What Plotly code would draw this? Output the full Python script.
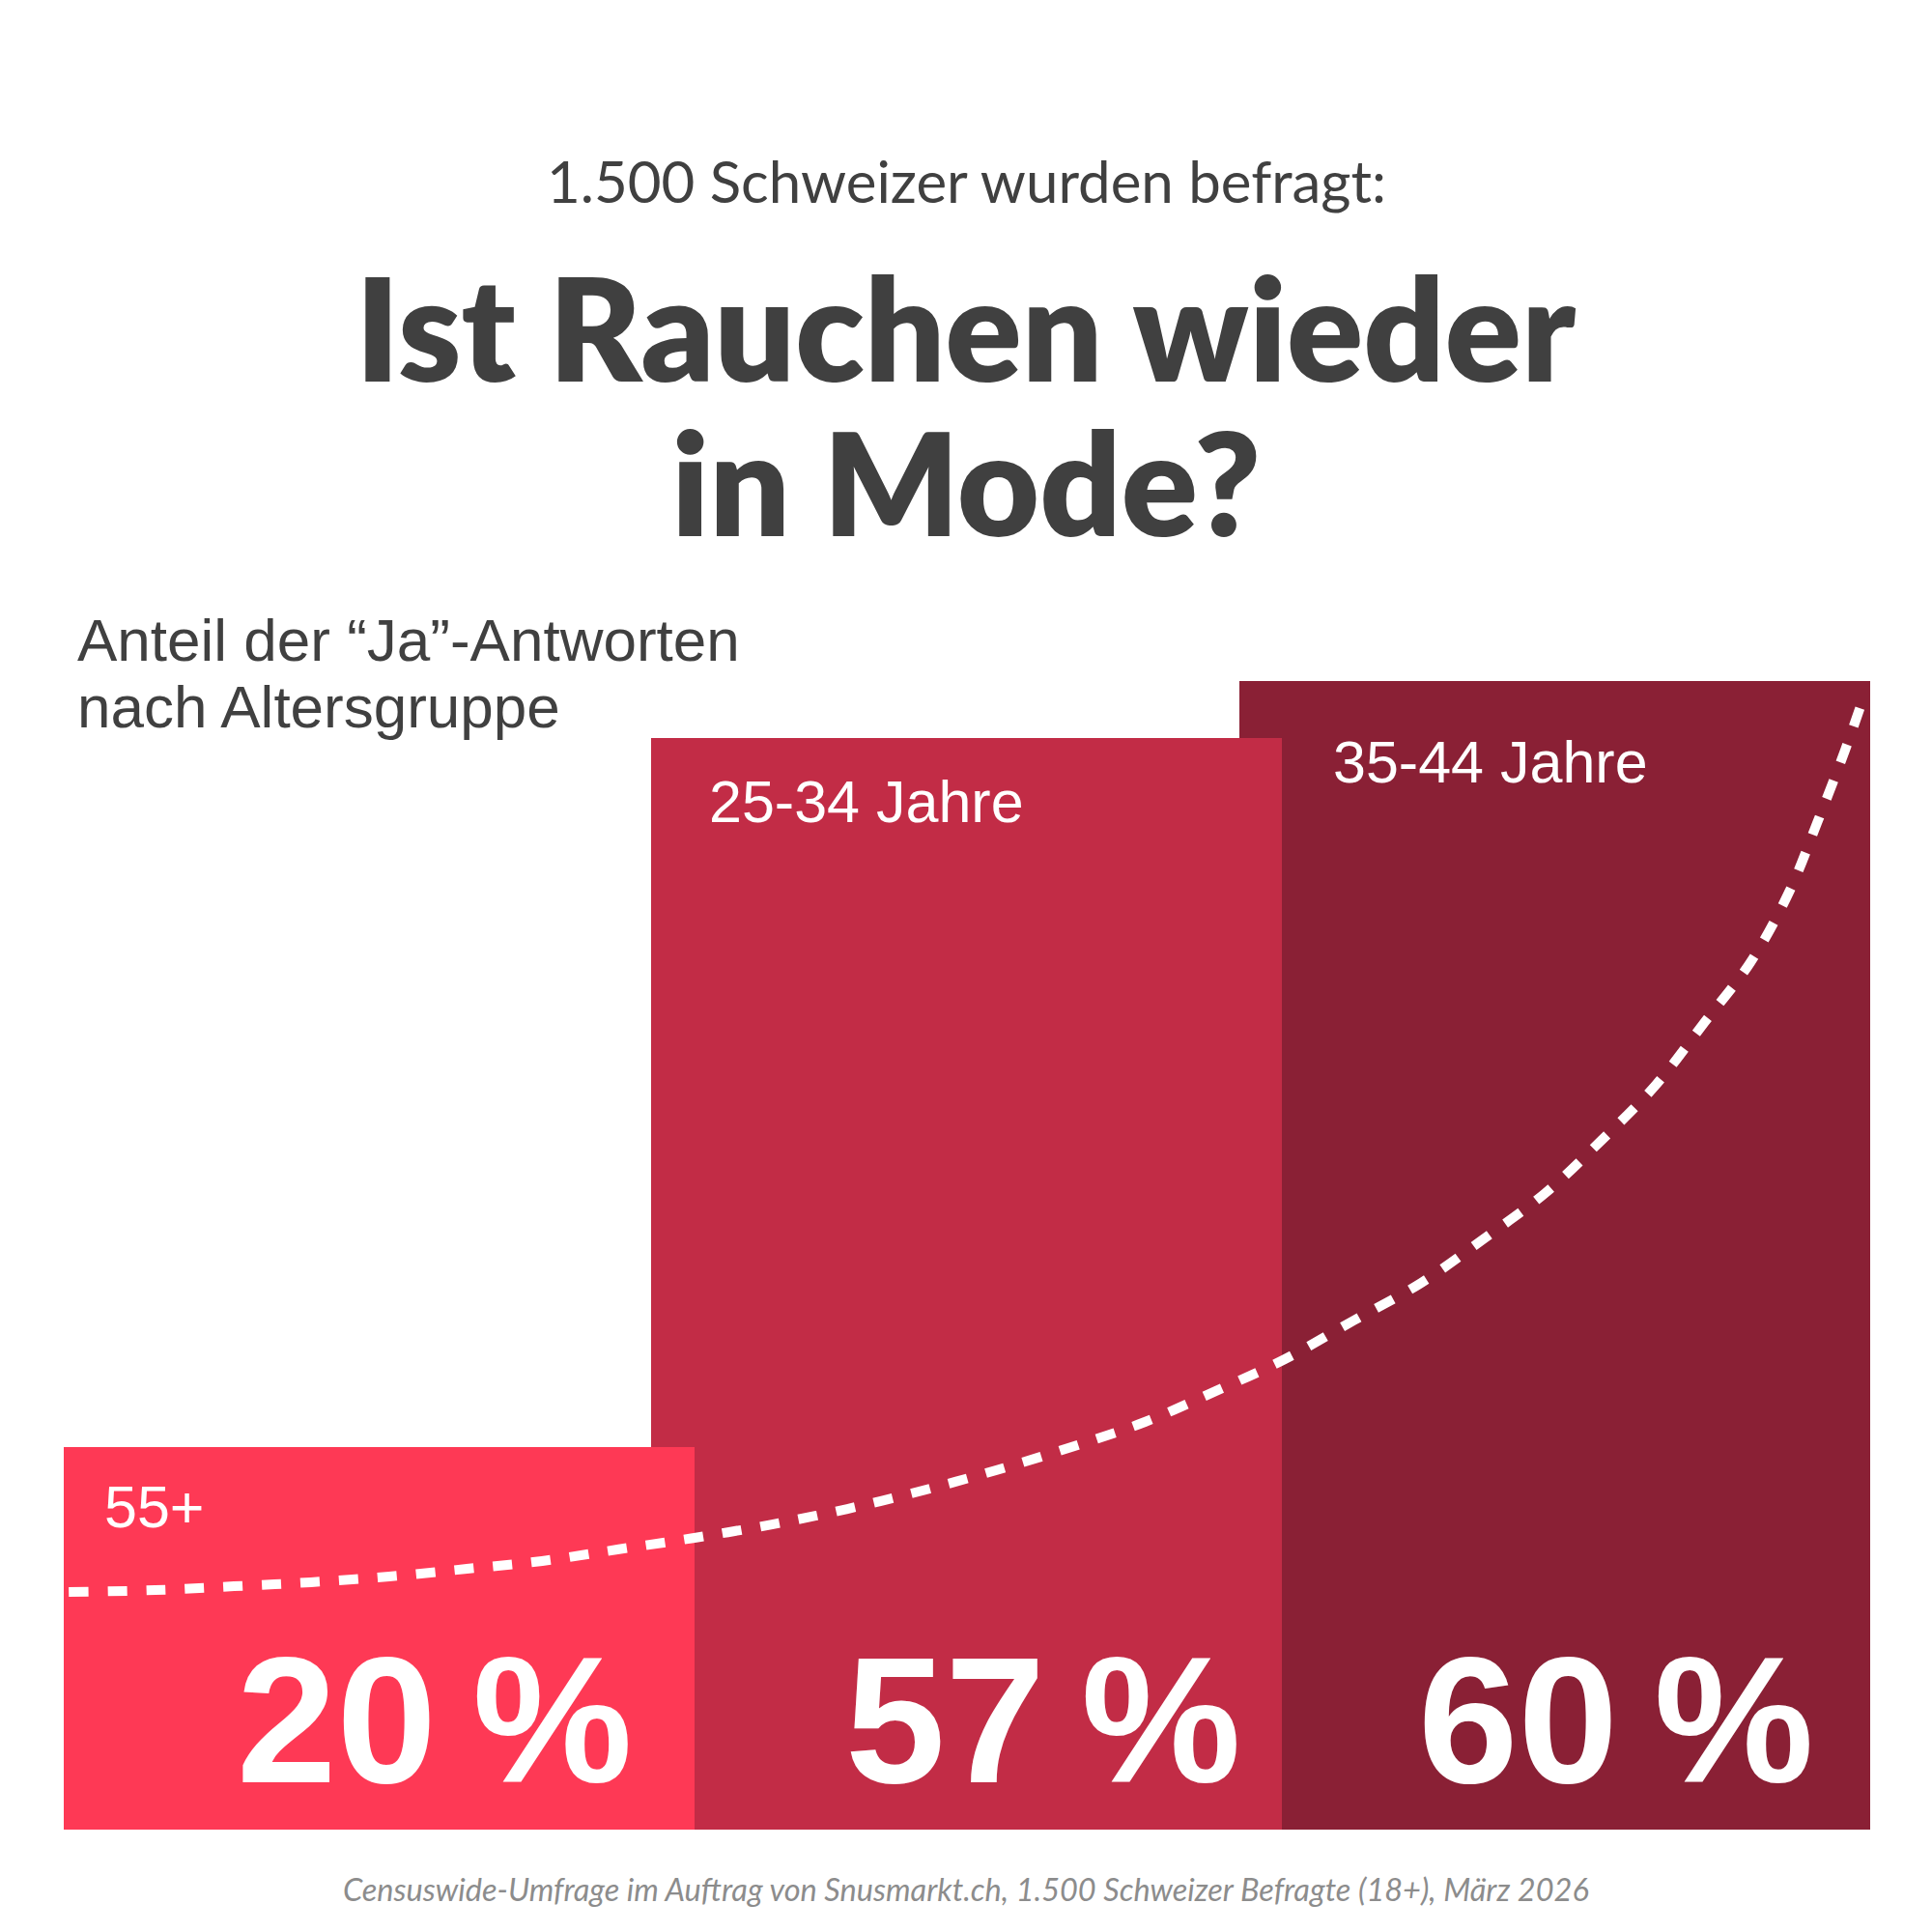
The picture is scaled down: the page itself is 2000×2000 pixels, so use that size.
import plotly.graph_objects as go

# ---------------- data ----------------
categories = ["55+", "25-34 Jahre", "35-44 Jahre"]
values = [20, 57, 60]
value_labels = ["20\u2009%", "57\u2009%", "60\u2009%"]
bar_colors = ["#FE3955", "#C22C46", "#8A2035"]

# decorative dashed trend curve
# (x in bar-position units, y in percent)
trend_x = [-0.527, -0.380, -0.246, -0.115, 0.018, 0.150, 0.278, 0.406, 0.537,
           0.669, 0.797, 0.925, 1.050, 1.178, 1.303, 1.424, 1.541, 1.658,
           1.773, 1.878, 1.984, 2.080, 2.172, 2.255, 2.333, 2.398, 2.446,
           2.494, 2.525]
trend_y = [12.41, 12.51, 12.71, 12.92, 13.22, 13.62, 14.03, 14.63, 15.24,
           15.94, 16.75, 17.71, 18.77, 19.98, 21.29, 22.91, 24.57, 26.59,
           28.56, 30.83, 33.25, 36.02, 38.90, 42.18, 45.31, 48.94, 52.57,
           56.41, 59.13]

header = "1.500 Schweizer wurden befragt:"
title_lines = ["Ist Rauchen wieder", "in Mode?"]
subtitle_lines = ["Anteil der \u201cJa\u201d-Antworten", "nach Altersgruppe"]
source = ("Censuswide-Umfrage im Auftrag von Snusmarkt.ch, 1.500 Schweizer "
          "Befragte (18+), M\u00e4rz 2026")

# ---------------- layout constants ----------------
W = H = 2000
PX_PER_X = 608.75
FIRST_CENTER_PX = 392
x_range = [-FIRST_CENTER_PX / PX_PER_X, (W - FIRST_CENTER_PX) / PX_PER_X]
bar_width = 653 / PX_PER_X
Y_BOTTOM_FRAC = 0.053
PX_PER_Y = 19.82
y_range = [0, (H * (1 - Y_BOTTOM_FRAC)) / PX_PER_Y]

DARK = "#404040"

fig = go.Figure()

# bars drawn back-to-front so the left bar sits on top
for i in reversed(range(len(values))):
    fig.add_trace(go.Bar(
        x=[i], y=[values[i]], width=bar_width,
        marker=dict(color=bar_colors[i], line=dict(width=0)),
        showlegend=False, hoverinfo="skip",
    ))

fig.add_trace(go.Scatter(
    x=trend_x, y=trend_y, mode="lines",
    line=dict(color="white", width=10, dash="20px,20px", shape="spline"),
    showlegend=False, hoverinfo="skip",
))

annotations = []

# category labels inside the bars
label_drop = [26, 30, 48]
label_xshift = [40, 58, 51]
label_font = dict(family="Liberation Sans, Arial, sans-serif", size=61, color="white")
for i, cat in enumerate(categories):
    left = i - bar_width / 2
    label_level = values[i] - (label_drop[i] + 56) / PX_PER_Y
    if i > 0 and values[i - 1] > label_level:
        left = (i - 1) + bar_width / 2
    annotations.append(dict(
        x=left, y=values[i], xref="x", yref="y", text=cat, showarrow=False,
        xanchor="left", yanchor="top", xshift=label_xshift[i], yshift=-label_drop[i],
        font=label_font,
    ))

# big value labels
val_xshift = [-62, -40, -56]
val_font = dict(family="Liberation Sans, Arial, sans-serif", size=186,
                color="white", weight="bold")
for i, lab in enumerate(value_labels):
    annotations.append(dict(
        x=i + bar_width / 2, y=0, xref="x", yref="y", text=lab, showarrow=False,
        xanchor="right", yanchor="bottom", xshift=val_xshift[i], yshift=8,
        font=val_font,
    ))


def py(px):
    return 1 - px / H


# header
annotations.append(dict(
    x=0.5, y=py(209 - 0.987 * 60 - 1), xref="paper", yref="paper", text=header,
    showarrow=False, xanchor="center", yanchor="top",
    font=dict(family="Lato, sans-serif", size=60, color=DARK),
))
# title
for txt, base in zip(title_lines, [394, 554]):
    annotations.append(dict(
        x=0.5, y=py(base - 0.987 * 147 - 1), xref="paper", yref="paper", text=txt,
        showarrow=False, xanchor="center", yanchor="top",
        font=dict(family="Lato, sans-serif", size=147, color=DARK, weight=800),
    ))
# subtitle
for txt, base in zip(subtitle_lines, [683, 752]):
    annotations.append(dict(
        x=78 / W, y=py(base - 0.905 * 62 - 1), xref="paper", yref="paper", text=txt,
        showarrow=False, xanchor="left", yanchor="top",
        font=dict(family="Liberation Sans, Arial, sans-serif", size=62, color=DARK),
    ))
# source
annotations.append(dict(
    x=0.5, y=py(1967 - 0.987 * 32.5 - 1), xref="paper", yref="paper", text=source,
    showarrow=False, xanchor="center", yanchor="top",
    font=dict(family="Lato, sans-serif", size=32.5, color="#8C8C8C", style="italic"),
))

fig.update_layout(
    width=W, height=H,
    margin=dict(l=0, r=0, t=0, b=0),
    paper_bgcolor="white", plot_bgcolor="white",
    barmode="overlay", bargap=0,
    xaxis=dict(range=x_range, domain=[0, 1], visible=False, fixedrange=True),
    yaxis=dict(range=y_range, domain=[Y_BOTTOM_FRAC, 1], visible=False, fixedrange=True),
    annotations=annotations,
    showlegend=False,
)

fig.write_html("out.html", config={"displayModeBar": False})
